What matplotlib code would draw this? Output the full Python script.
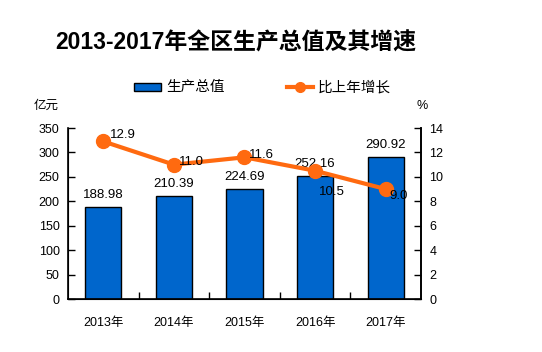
import matplotlib
matplotlib.use("Agg")
import matplotlib.pyplot as plt
import numpy as np
from matplotlib.patches import Rectangle
from matplotlib.lines import Line2D

plt.rcParams['font.family'] = ['Liberation Sans', 'Noto Sans CJK SC']

years = ["2013年", "2014年", "2015年", "2016年", "2017年"]
gdp = [188.98, 210.39, 224.69, 252.16, 290.92]
growth = [12.9, 11.0, 11.6, 10.5, 9.0]
gdp_labels = ["188.98", "210.39", "224.69", "252.16", "290.92"]
growth_labels = ["12.9", "11.0", "11.6", "10.5", "9.0"]

bar_color = "#0066CC"
line_color = "#FF6A10"

fig = plt.figure(figsize=(5.42, 3.52), dpi=100)
ax = fig.add_axes([68/542, 1 - 299/352, (421 - 68)/542, (299 - 128)/352])
ax2 = ax.twinx()

x = np.arange(len(years))
ax.bar(x, gdp, width=0.51, color=bar_color, edgecolor="black", linewidth=1, zorder=2)
ax.set_xlim(-0.5, len(years) - 0.5)
ax.set_ylim(0, 350)
ax.set_yticks(np.arange(0, 351, 50))
ax.set_xticks(x)
ax.set_xticklabels(years, fontsize=9)
ax.tick_params(axis='x', length=0, pad=13)
ax.set_xticks(np.arange(0.5, len(years) - 1, 1), minor=True)
ax.tick_params(axis='x', which='minor', direction='in', length=5, width=1)
ax.tick_params(axis='y', direction='in', length=5, width=1, labelsize=9, pad=6)
ax.spines['top'].set_visible(False)
for s in ['left', 'bottom', 'right']:
    ax.spines[s].set_linewidth(1.2)

for i, v in enumerate(gdp):
    ax.text(x[i], v + 12, gdp_labels[i], ha='center', va='bottom', fontsize=9.5)

ax2.plot(x, growth, color=line_color, linewidth=3, marker='o', markersize=10, zorder=3)
ax2.set_ylim(0, 14)
ax2.set_yticks(np.arange(0, 15, 2))
ax2.tick_params(axis='y', direction='in', length=5, width=1, labelsize=9, pad=6)
ax2.spines['top'].set_visible(False)
ax2.spines['right'].set_linewidth(1.2)

offsets = [(0.1, 0.5), (0.07, 0.2), (0.07, 0.2), (0.05, -1.7), (0.05, -0.6)]
for i, v in enumerate(growth):
    dx, dy = offsets[i]
    ax2.text(x[i] + dx, v + dy, growth_labels[i], ha='left', va='center', fontsize=9.5)

fig.text(236/542, 1 - 43/352, "2013-2017年全区生产总值及其增速", ha='center', va='center',
         fontsize=16.5, fontweight='bold')

# legend
fig.patches.append(Rectangle((134/542, 1 - 91/352), 27/542, 8/352, transform=fig.transFigure,
                             facecolor=bar_color, edgecolor="black", linewidth=1))
fig.text(166/542, 1 - 87/352, "生产总值", ha='left', va='center', fontsize=10.5)
fig.lines.append(Line2D([287/542, 313/542], [1 - 87/352, 1 - 87/352], transform=fig.transFigure,
                        color=line_color, linewidth=3))
fig.lines.append(Line2D([300/542], [1 - 87/352], transform=fig.transFigure,
                        color=line_color, marker='o', markersize=7))
fig.text(318/542, 1 - 87/352, "比上年增长", ha='left', va='center', fontsize=10.5)

fig.text(46/542, 1 - 106/352, "亿元", ha='center', va='center', fontsize=9)
fig.text(422/542, 1 - 106/352, "%", ha='center', va='center', fontsize=9)

fig.savefig("out.png", dpi=100)
